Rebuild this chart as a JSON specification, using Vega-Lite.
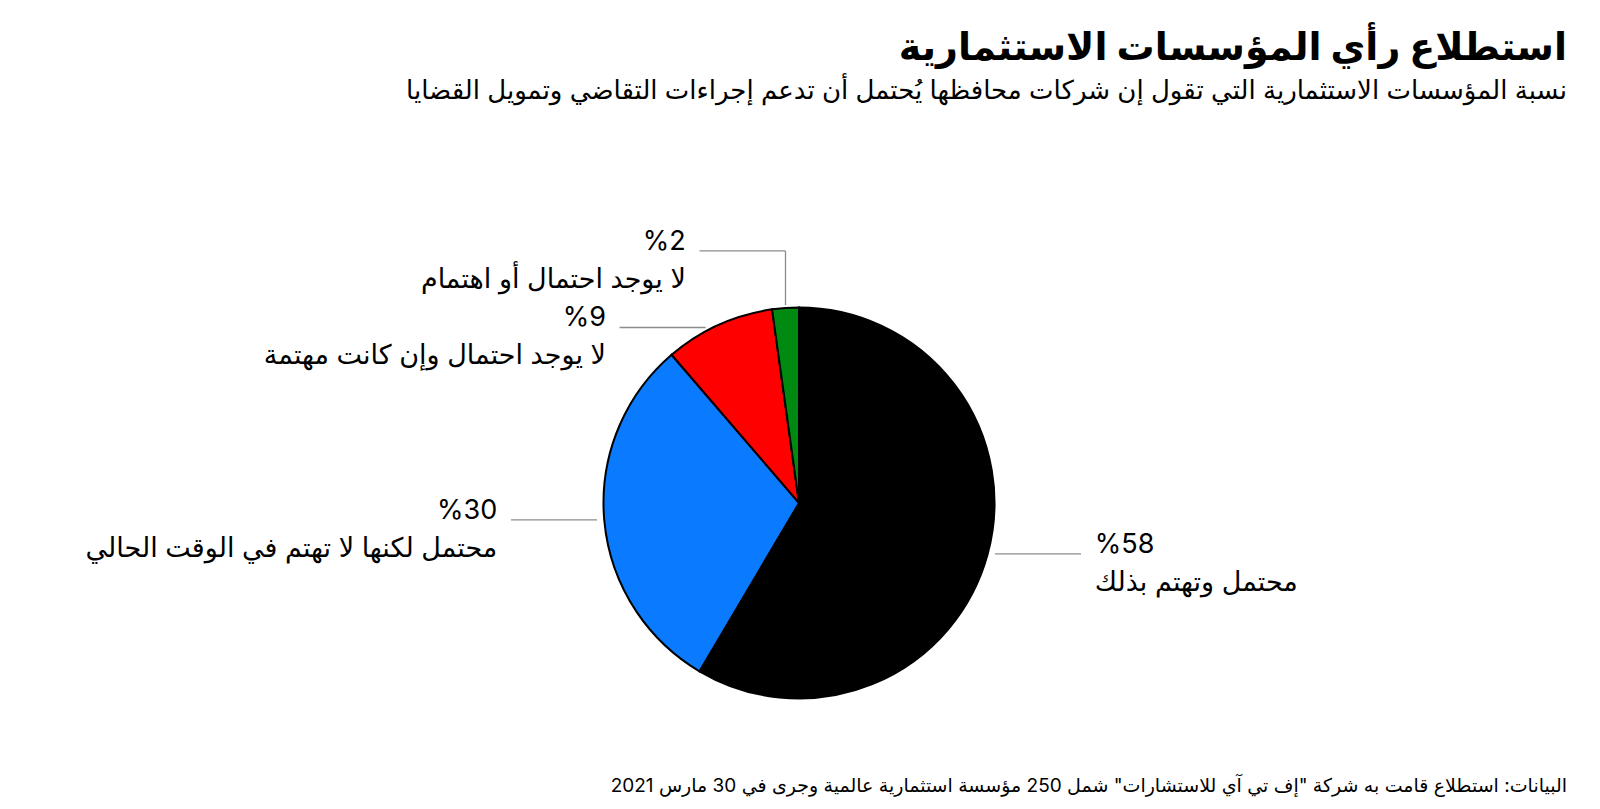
{
  "$schema": "https://vega.github.io/schema/vega-lite/v6.json",
  "width": 1567,
  "height": 630,
  "autosize": "none",
  "padding": {"left": 0, "top": 130, "right": 33, "bottom": 49},
  "background": "white",
  "title": {
    "text": "استطلاع رأي المؤسسات الاستثمارية",
    "subtitle": "نسبة المؤسسات الاستثمارية التي تقول إن شركات محافظها يُحتمل أن تدعم إجراءات التقاضي وتمويل القضايا",
    "anchor": "end",
    "frame": "group",
    "font": "Inter, DejaVu Sans, sans-serif",
    "subtitleFont": "Inter, DejaVu Sans, sans-serif",
    "fontSize": 38,
    "fontWeight": "bold",
    "subtitleFontSize": 26,
    "color": "#000000",
    "subtitleColor": "#000000",
    "offset": 26,
    "subtitlePadding": 10
  },
  "config": {
    "view": {"stroke": null}
  },
  "data": {
    "values": [
      {"category": "محتمل وتهتم بذلك", "pct": "%58", "value": 58.5, "order": 1},
      {"category": "محتمل لكنها لا تهتم في الوقت الحالي", "pct": "%30", "value": 30.2, "order": 2},
      {"category": "لا يوجد احتمال وإن كانت مهتمة", "pct": "%9", "value": 9.1, "order": 3},
      {"category": "لا يوجد احتمال أو اهتمام", "pct": "%2", "value": 2.2, "order": 4}
    ]
  },
  "transform": [
    {"window": [{"op": "sum", "field": "value", "as": "cum"}], "sort": [{"field": "order"}], "frame": [null, 0]},
    {"joinaggregate": [{"op": "sum", "field": "value", "as": "total"}]},
    {"calculate": "(datum.cum - datum.value / 2) / datum.total * 2 * PI", "as": "mid"},
    {"calculate": "sin(datum.mid)", "as": "sx"},
    {"calculate": "cos(datum.mid)", "as": "cy"},
    {"calculate": "datum.sx < 0 ? -1 : 1", "as": "side"},
    {"calculate": "0.985 * datum.cy", "as": "ly0"},
    {"window": [{"op": "lag", "field": "ly0", "as": "prevLy"}], "groupby": ["side"], "sort": [{"field": "order"}]},
    {"calculate": "datum.prevLy == null ? datum.ly0 : (datum.side < 0 ? max(datum.ly0, datum.prevLy + 0.392) : min(datum.ly0, datum.prevLy - 0.392))", "as": "ly"},
    {"calculate": "abs(datum.ly - datum.ly0) > 0.001", "as": "moved"},
    {"calculate": "datum.moved ? datum.sx : datum.side * (sqrt(1 - datum.ly * datum.ly) + 0.037)", "as": "hx1"},
    {"calculate": "datum.hx1 + datum.side * 0.44", "as": "hx2"},
    {"calculate": "datum.hx2 + datum.side * 0.07", "as": "tx"},
    {"calculate": "datum.cy + 0.015", "as": "vy1"},
    {"calculate": "datum.pct + '\\n' + datum.category", "as": "label"}
  ],
  "layer": [
    {
      "mark": {"type": "arc", "outerRadius": 195.5, "stroke": "#000000", "strokeWidth": 2},
      "encoding": {
        "theta": {"field": "value", "type": "quantitative", "stack": true},
        "order": {"field": "order", "type": "quantitative"},
        "color": {
          "field": "category",
          "type": "nominal",
          "scale": {
            "domain": ["محتمل وتهتم بذلك", "محتمل لكنها لا تهتم في الوقت الحالي", "لا يوجد احتمال وإن كانت مهتمة", "لا يوجد احتمال أو اهتمام"],
            "range": ["#000000", "#0a7aff", "#ff0000", "#008a12"]
          },
          "legend": null
        },
        "x": {"datum": 0, "type": "quantitative", "scale": {"domain": [-4.087, 3.9284], "nice": false, "zero": false}, "axis": null},
        "y": {"datum": 0, "type": "quantitative", "scale": {"domain": [-1.3146, 1.9079], "nice": false, "zero": false}, "axis": null}
      }
    },
    {
      "mark": {"type": "rule", "color": "#8c8c8c", "strokeWidth": 1.3},
      "encoding": {
        "x": {"field": "hx1", "type": "quantitative", "scale": {"domain": [-4.087, 3.9284], "nice": false, "zero": false}, "axis": null},
        "x2": {"field": "hx2"},
        "y": {"field": "ly", "type": "quantitative", "scale": {"domain": [-1.3146, 1.9079], "nice": false, "zero": false}, "axis": null}
      }
    },
    {
      "transform": [{"filter": "datum.moved"}],
      "mark": {"type": "rule", "color": "#8c8c8c", "strokeWidth": 1.3},
      "encoding": {
        "x": {"field": "sx", "type": "quantitative", "scale": {"domain": [-4.087, 3.9284], "nice": false, "zero": false}, "axis": null},
        "y": {"field": "vy1", "type": "quantitative", "scale": {"domain": [-1.3146, 1.9079], "nice": false, "zero": false}, "axis": null},
        "y2": {"field": "ly"}
      }
    },
    {
      "transform": [{"filter": "datum.side < 0"}],
      "mark": {"type": "text", "align": "right", "baseline": "middle", "fontSize": 27, "lineHeight": 38, "lineBreak": "\n", "dy": -9, "color": "#000000", "font": "Inter, DejaVu Sans, sans-serif"},
      "encoding": {
        "x": {"field": "tx", "type": "quantitative", "scale": {"domain": [-4.087, 3.9284], "nice": false, "zero": false}, "axis": null},
        "y": {"field": "ly", "type": "quantitative", "scale": {"domain": [-1.3146, 1.9079], "nice": false, "zero": false}, "axis": null},
        "text": {"field": "label", "type": "nominal"}
      }
    },
    {
      "transform": [{"filter": "datum.side > 0"}],
      "mark": {"type": "text", "align": "left", "baseline": "middle", "fontSize": 27, "lineHeight": 38, "lineBreak": "\n", "dy": -9, "color": "#000000", "font": "Inter, DejaVu Sans, sans-serif"},
      "encoding": {
        "x": {"field": "tx", "type": "quantitative", "scale": {"domain": [-4.087, 3.9284], "nice": false, "zero": false}, "axis": null},
        "y": {"field": "ly", "type": "quantitative", "scale": {"domain": [-1.3146, 1.9079], "nice": false, "zero": false}, "axis": null},
        "text": {"field": "label", "type": "nominal"}
      }
    },
    {
      "data": {"values": [{"note": "‫البيانات: استطلاع قامت به شركة \"إف تي آي للاستشارات\" شمل 250 مؤسسة استثمارية عالمية وجرى في 30 مارس 2021‬"}]},
      "mark": {"type": "text", "align": "right", "baseline": "top", "fontSize": 19, "dy": 17, "color": "#000000", "font": "Inter, DejaVu Sans, sans-serif"},
      "encoding": {
        "x": {"datum": 3.9284, "type": "quantitative", "scale": {"domain": [-4.087, 3.9284], "nice": false, "zero": false}, "axis": null},
        "y": {"datum": -1.3146, "type": "quantitative", "scale": {"domain": [-1.3146, 1.9079], "nice": false, "zero": false}, "axis": null},
        "text": {"field": "note", "type": "nominal"}
      }
    }
  ]
}
